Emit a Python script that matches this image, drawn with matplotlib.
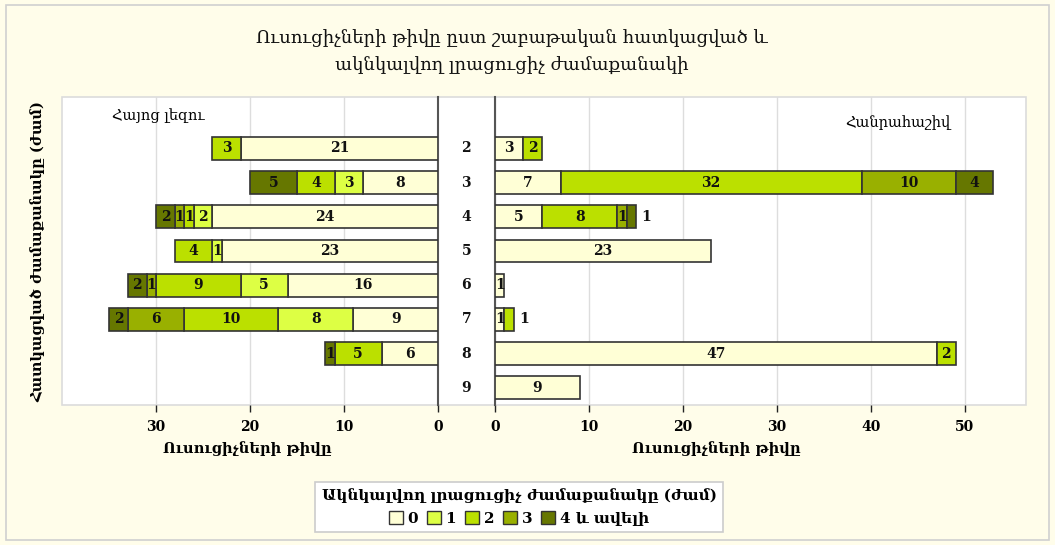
import matplotlib
matplotlib.use("Agg")
import matplotlib.pyplot as plt
from matplotlib.patches import Rectangle, Patch
import numpy as np

# ---- data ----
hours = [2, 3, 4, 5, 6, 7, 8, 9]
extra_labels = ["0", "1", "2", "3", "4 և ավելի"]

arm_0 = [21, 8, 24, 23, 16, 9, 6, 0]
arm_1 = [0, 3, 2, 1, 5, 8, 0, 0]
arm_2 = [3, 4, 1, 4, 9, 10, 5, 0]
arm_3 = [0, 0, 1, 0, 1, 6, 0, 0]
arm_4 = [0, 5, 2, 0, 2, 2, 1, 0]

alg_0 = [3, 7, 5, 23, 1, 1, 47, 9]
alg_1 = [0, 0, 0, 0, 0, 0, 0, 0]
alg_2 = [2, 32, 8, 0, 0, 1, 2, 0]
alg_3 = [0, 10, 1, 0, 0, 0, 0, 0]
alg_4 = [0, 4, 1, 0, 0, 0, 0, 0]

title = "Ուսուցիչների թիվը ըստ շաբաթական հատկացված և\nակնկալվող լրացուցիչ ժամաքանակի"
left_name = "Հայոց լեզու"
right_name = "Հանրահաշիվ"
xlabel = "Ուսուցիչների թիվը"
ylabel = "Հատկացված ժամաքանակը (ժամ)"
legend_title = "Ակնկալվող լրացուցիչ ժամաքանակը (ժամ)"

colors = ["#ffffd6", "#ddff44", "#bbe000", "#99b000", "#667700"]
edge = "#333333"
bg = "#fffdea"

plt.rcParams['font.family'] = ['DejaVu Serif', 'DejaVu Sans']

W, H = 1055, 545
fig = plt.figure(figsize=(W / 100, H / 100), dpi=100, facecolor=bg)

def fx(px):
    return px / W

def fy(py):
    return 1 - py / H

# outer border
fig.patches.append(Rectangle((fx(6), fy(540)), fx(1049) - fx(6), fy(5) - fy(540),
                             transform=fig.transFigure, facecolor="none",
                             edgecolor="#d0d0d0", lw=1.2, zorder=-2))
# white plot panel
top, bot = 97, 405
fig.patches.append(Rectangle((fx(62), fy(bot)), fx(1026) - fx(62), fy(top) - fy(bot),
                             transform=fig.transFigure, facecolor="white",
                             edgecolor="#dcdcdc", lw=1.2, zorder=-1))

axL = fig.add_axes([fx(62), fy(bot), fx(438) - fx(62), fy(top) - fy(bot)])
axR = fig.add_axes([fx(495), fy(bot), fx(1026) - fx(495), fy(top) - fy(bot)])

y = np.array(hours)
bh = 0.67
left_series = [arm_0, arm_1, arm_2, arm_3, arm_4]
right_series = [alg_0, alg_1, alg_2, alg_3, alg_4]

def draw(ax, series, right):
    cum = np.zeros(len(hours))
    totals = np.sum(np.array(series), axis=0)
    for k, vals in enumerate(series):
        vals = np.array(vals, dtype=float)
        mask = vals > 0
        ax.barh(y[mask], vals[mask], left=cum[mask], height=bh, color=colors[k],
                edgecolor=edge, linewidth=1.2, zorder=3)
        for i in np.where(mask)[0]:
            v = vals[i]
            outer = right and k > 0 and v <= 1 and abs(cum[i] + v - totals[i]) < 1e-9
            if outer:
                ax.text(cum[i] + v + 0.6, y[i], f"{int(v)}", ha="left", va="center",
                        fontsize=10, fontweight="bold", color="#111111", zorder=4)
            else:
                ax.text(cum[i] + v / 2, y[i], f"{int(v)}", ha="center", va="center",
                        fontsize=10, fontweight="bold", color="#111111", zorder=4)
        cum += vals

draw(axL, left_series, False)
draw(axR, right_series, True)

for ax in (axL, axR):
    ax.set_facecolor("none")
    ax.set_ylim(9.5, 0.5)
    ax.set_yticks([])
    ax.grid(axis="x", color="#dddddd", lw=1.0, zorder=0)
    ax.set_axisbelow(True)
    for s in ("top", "bottom"):
        ax.spines[s].set_visible(False)
    ax.tick_params(axis="x", direction="out", length=5, width=1, color="#222222",
                   labelsize=10, pad=6)

axL.set_xlim(40, 0)
axL.set_xticks([0, 10, 20, 30])
axL.spines["left"].set_visible(False)
axL.spines["right"].set_color("#555555")
axL.spines["right"].set_linewidth(1.5)

axR.set_xlim(0, 56.5)
axR.set_xticks([0, 10, 20, 30, 40, 50])
axR.spines["right"].set_visible(False)
axR.spines["left"].set_color("#555555")
axR.spines["left"].set_linewidth(1.5)

for ax in (axL, axR):
    for lab in ax.get_xticklabels():
        lab.set_fontweight("bold")

# category labels in the centre
for h in hours:
    axL.text(-3.0, h, str(h), ha="center", va="center", fontsize=10,
             fontweight="bold", color="#111111", clip_on=False)

# panel names
fig.text(fx(112), fy(116), left_name, ha="left", va="center", fontsize=10.5)
fig.text(fx(950), fy(123), right_name, ha="right", va="center", fontsize=10.5)

# axis labels
fig.text(fx(247), fy(449), xlabel, ha="center", va="center", fontsize=10.5, fontweight="bold")
fig.text(fx(716), fy(449), xlabel, ha="center", va="center", fontsize=10.5, fontweight="bold")
fig.text(fx(38), fy(252), ylabel, ha="center", va="center", rotation=90,
         fontsize=10.5, fontweight="bold")

# title
fig.text(fx(512), fy(52), title, ha="center", va="center", fontsize=13,
         linespacing=1.7, color="#111111")

# legend
handles = [Patch(facecolor=c, edgecolor=edge, lw=1.0) for c in colors]
leg = fig.legend(handles, extra_labels, loc="center", bbox_to_anchor=(fx(519), fy(507)),
                 ncol=5, title=legend_title, frameon=True, fancybox=False,
                 handlelength=0.9, handleheight=0.9, handletextpad=0.3,
                 columnspacing=0.6, borderpad=0.4, fontsize=11,
                 title_fontsize=11, edgecolor="#cccccc", facecolor="white",
                 framealpha=1)
for t in leg.get_texts():
    t.set_fontweight("bold")
leg.get_title().set_fontweight("bold")
leg.get_frame().set_linewidth(1.2)

fig.savefig("out.png", dpi=100, facecolor=bg)
